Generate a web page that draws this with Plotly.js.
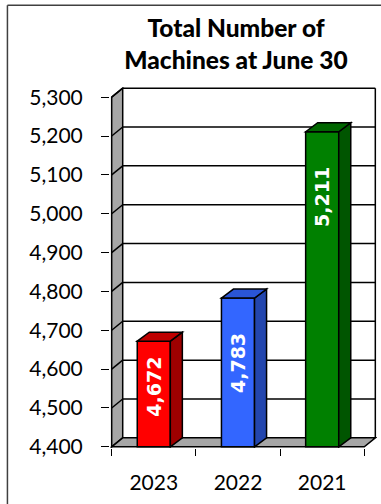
<!DOCTYPE html>
<html>
<head>
<meta charset="utf-8">
<script src="https://cdn.plot.ly/plotly-3.0.1.min.js"></script>
<style>
html,body{margin:0;padding:0;background:#fff;}
#chart{width:381px;height:504px;}
</style>
</head>
<body>
<div id="chart"></div>
<script>
// ---- data ----
var years = ['2023', '2022', '2021'];
var machines = [4672, 4783, 5211];
var tickValues = [4400, 4500, 4600, 4700, 4800, 4900, 5000, 5100, 5200, 5300];
var frontColors = ['#FF0000', '#3366FF', '#008000'];
var sideColors = ['#9E0000', '#2346AE', '#005500'];
var topColors = ['#BE0000', '#2A55D6', '#006600'];

// ---- geometry (pixels) ----
var W = 381, H = 504;
var floorVal = tickValues[0], topVal = tickValues[tickValues.length - 1];
var pxPerUnit = 350 / (topVal - floorVal);
var pxPerCat = 84;
var depthPx = 11, depthPy = 9;
var dxc = depthPx / pxPerCat;
var dyv = depthPy / pxPerUnit;
var padX = 0.02, padY = 3;
var xr0 = -0.5 - padX, xr1 = years.length - 0.5 + dxc + padX;
var yr0 = floorVal - padY, yr1 = topVal + dyv + padY;
var plotW = (xr1 - xr0) * pxPerCat;
var plotH = (yr1 - yr0) * pxPerUnit;
var mL = 112 - padX * pxPerCat;
var mT = 97 - (dyv + padY) * pxPerUnit;
var mR = W - mL - plotW;
var mB = H - mT - plotH;
var barW = 33 / pxPerCat;

function px2paperX(px){ return (px - mL) / plotW; }
function px2paperY(py){ return (H - mB - py) / plotH; }

var shapes = [];
var xa = -0.5, xb = years.length - 0.5;
// left wall
shapes.push({type:'path', layer:'below', xref:'x', yref:'y',
  path:'M'+xa+','+floorVal+' L'+(xa+dxc)+','+(floorVal+dyv)+' L'+(xa+dxc)+','+(topVal+dyv)+' L'+xa+','+topVal+' Z',
  fillcolor:'#A6A6A6', line:{color:'#000', width:1.5}});
// floor
shapes.push({type:'path', layer:'below', xref:'x', yref:'y',
  path:'M'+xa+','+floorVal+' L'+xb+','+floorVal+' L'+(xb+dxc)+','+(floorVal+dyv)+' L'+(xa+dxc)+','+(floorVal+dyv)+' Z',
  fillcolor:'#A6A6A6', line:{color:'#000', width:1.5}});
// gridlines on back wall and left wall
tickValues.forEach(function(v, i){
  if (i === 0) return;
  shapes.push({type:'line', layer:'below', xref:'x', yref:'y',
    x0:xa+dxc, x1:xb+dxc, y0:v+dyv, y1:v+dyv, line:{color:'#000', width:1.5}});
  shapes.push({type:'line', layer:'below', xref:'x', yref:'y',
    x0:xa, x1:xa+dxc, y0:v, y1:v+dyv, line:{color:'#000', width:1.5}});
});
// back wall right edge
shapes.push({type:'line', layer:'below', xref:'x', yref:'y',
  x0:xb+dxc, x1:xb+dxc, y0:floorVal+dyv, y1:topVal+dyv, line:{color:'#000', width:1.5}});

// bar side and top faces
var bdx = 12 / pxPerCat;
machines.forEach(function(v, i){
  var xl = i - barW/2, xr = i + barW/2;
  shapes.push({type:'path', layer:'above', xref:'x', yref:'y',
    path:'M'+xr+','+floorVal+' L'+(xr+bdx)+','+(floorVal+dyv)+' L'+(xr+bdx)+','+(v+dyv)+' L'+xr+','+v+' Z',
    fillcolor:sideColors[i], line:{color:'#000', width:1.5}});
  shapes.push({type:'path', layer:'above', xref:'x', yref:'y',
    path:'M'+xl+','+v+' L'+(xl+bdx)+','+(v+dyv)+' L'+(xr+bdx)+','+(v+dyv)+' L'+xr+','+v+' Z',
    fillcolor:topColors[i], line:{color:'#000', width:1.5}});
});

// outer frame (top and left)
shapes.push({type:'line', xref:'paper', yref:'paper',
  x0:px2paperX(8), x1:px2paperX(W+2), y0:px2paperY(5), y1:px2paperY(5),
  line:{color:'#404040', width:1.5}});
shapes.push({type:'line', xref:'paper', yref:'paper',
  x0:px2paperX(8), x1:px2paperX(8), y0:px2paperY(5), y1:px2paperY(H+2),
  line:{color:'#404040', width:1.5}});

// data labels
var annotations = machines.map(function(v, i){
  var hpx = (v - floorVal) * pxPerUnit;
  return {x:i, y:v, xref:'x', yref:'y', text: v.toLocaleString('en-US'),
    showarrow:false, textangle:-90, xanchor:'center', yanchor:'top',
    yshift: -Math.min(33, hpx - 92),
    font:{family:'DejaVu Sans, sans-serif', size:19, color:'#FFFFFF', weight:'bold'}};
});

var trace = {
  type:'bar', x:years,
  y: machines.map(function(v){ return v - floorVal; }),
  base: machines.map(function(){ return floorVal; }),
  width: barW,
  marker:{color:frontColors, line:{color:'#000', width:1.5}},
  hoverinfo:'skip'
};

var layout = {
  width:W, height:H,
  margin:{l:mL, r:mR, t:mT, b:mB, pad:0},
  paper_bgcolor:'#FFFFFF', plot_bgcolor:'rgba(0,0,0,0)',
  showlegend:false,
  title:{text:'Total Number of<br>Machines at June 30', x:236/W, xref:'container', xanchor:'center',
    y:1 - 37/H, yref:'container', yanchor:'top',
    font:{family:'Lato, sans-serif', size:24.5, color:'#000', weight:900}},
  xaxis:{type:'category', range:[xr0, xr1], showgrid:false, zeroline:false, showline:false,
    ticks:'outside', tickson:'boundaries', ticklen:7, tickwidth:1, tickcolor:'#000',
    ticklabelstandoff:20,
    tickfont:{family:'Lato, sans-serif', size:21, color:'#000'}, fixedrange:true},
  yaxis:{range:[yr0, yr1], tickvals:tickValues, tickformat:',d', showgrid:false, zeroline:false,
    showline:false, ticks:'outside', ticklen:8, tickwidth:1, tickcolor:'#000',
    ticklabelstandoff:14,
    tickfont:{family:'Lato, sans-serif', size:21, color:'#000'}, fixedrange:true},
  shapes:shapes, annotations:annotations
};

Plotly.newPlot('chart', [trace], layout, {staticPlot:true, displayModeBar:false});
</script>
</body>
</html>
